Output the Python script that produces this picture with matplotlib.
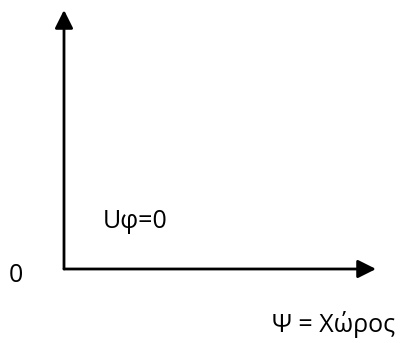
import matplotlib
matplotlib.use('Agg')
import matplotlib.pyplot as plt

# diagram texts
origin_label = '0'
inner_label = 'Uφ=0'
x_label = 'Ψ = Χώρος'

# axis geometry, pixel coords of the 401x343 canvas
origin = (64, 269)
y_tip = (64, 10)
x_tip = (376, 269)

fig = plt.figure(figsize=(4.01, 3.43), dpi=100)
ax = fig.add_axes([0, 0, 1, 1])
ax.set_xlim(0, 401)
ax.set_ylim(343, 0)
ax.axis('off')

arrow = dict(arrowstyle='-|>,head_length=1.1,head_width=0.55', lw=2,
             color='black', shrinkA=0, shrinkB=0)
ax.annotate('', xy=y_tip, xytext=origin, arrowprops=arrow)
ax.annotate('', xy=x_tip, xytext=origin, arrowprops=arrow)

font = ['Open Sans', 'DejaVu Sans']
ax.text(9, 276, origin_label, fontsize=18, family=font, va='center', ha='left')
ax.text(103, 221, inner_label, fontsize=18, family=font, va='center', ha='left')
ax.text(272, 325, x_label, fontsize=18, family=font, va='center', ha='left')

fig.savefig('out.png', dpi=100)
